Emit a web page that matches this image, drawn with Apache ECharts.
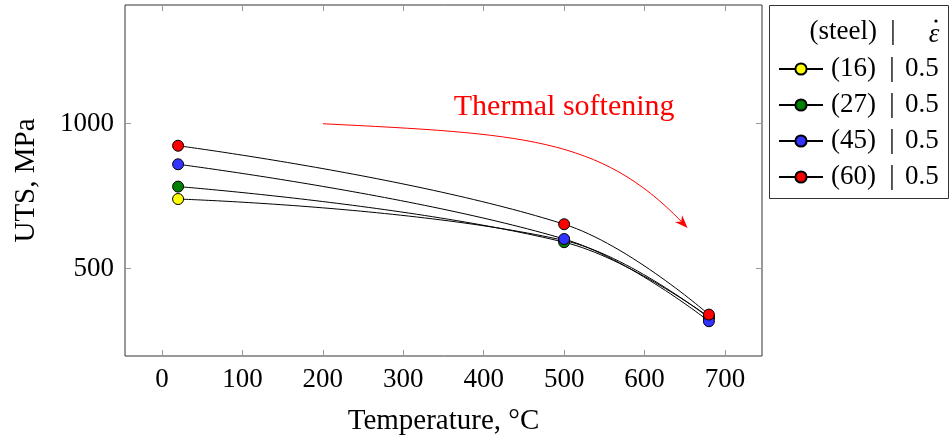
<!DOCTYPE html>
<html>
<head>
<meta charset="utf-8">
<script src="https://cdn.jsdelivr.net/npm/echarts@6/dist/echarts.min.js"></script>
<style>
html,body{margin:0;padding:0;background:#fff;}
#main{width:950px;height:441px;}
</style>
</head>
<body>
<div id="main"></div>
<script>
// ---- data ----
const temperatures = [20, 500, 680];
const steel16 = [740, 597, 330];
const steel27 = [783, 591, 333];
const steel45 = [860, 602, 318];
const steel60 = [924, 653, 341];
const steelNames = ['(16)', '(27)', '(45)', '(60)'];
const strainRates = ['0.5', '0.5', '0.5', '0.5'];
const seriesColors = ['#ffff00', '#008000', '#3333ff', '#ff0000'];
const xTicks = [0, 100, 200, 300, 400, 500, 600, 700];
const yTicks = [500, 1000];
const arrowStart = [200, 1000];
const arrowEnd = [650, 650];
const annotationPos = [500, 1056];
const annotationText = 'Thermal softening';

const FONT = 'Liberation Serif';
const allSeries = [steel16, steel27, steel45, steel60];

const chart = echarts.init(document.getElementById('main'), null, {renderer: 'canvas'});

function mkSeries(vals, i) {
  return {
    name: steelNames[i],
    type: 'line',
    smooth: 0.4,
    data: temperatures.map((t, k) => [t, vals[k]]),
    symbol: 'circle',
    symbolSize: 11,
    lineStyle: {color: '#000', width: 1},
    itemStyle: {color: seriesColors[i], borderColor: '#000', borderWidth: 1},
    emphasis: {disabled: true},
    z: 2 + i,
    animation: false
  };
}

const tickStyle = {show: true, inside: true, length: 6, lineStyle: {color: '#999', width: 1}};
const plainNum = v => String(v);

const option = {
  animation: false,
  grid: {left: 125, right: 188, top: 5, bottom: 79, show: true, borderColor: '#333', borderWidth: 1, backgroundColor: 'transparent'},
  xAxis: [{
    type: 'value', min: -46, max: 746,
    axisLine: {show: false, onZero: false},
    axisTick: Object.assign({customValues: xTicks}, tickStyle),
    axisLabel: {customValues: xTicks, formatter: plainNum, color: '#000', fontFamily: FONT, fontSize: 27, margin: 10},
    splitLine: {show: false},
    name: 'Temperature, °C', nameLocation: 'middle', nameGap: 51,
    nameTextStyle: {color: '#000', fontFamily: FONT, fontSize: 29}
  }, {
    type: 'value', min: -46, max: 746, position: 'top',
    axisLine: {show: false, onZero: false},
    axisTick: Object.assign({customValues: xTicks}, tickStyle),
    axisLabel: {show: false, customValues: xTicks},
    splitLine: {show: false}
  }],
  yAxis: [{
    type: 'value', min: 198, max: 1410,
    axisLine: {show: false, onZero: false},
    axisTick: Object.assign({customValues: yTicks}, tickStyle),
    axisLabel: {customValues: yTicks, formatter: plainNum, color: '#000', fontFamily: FONT, fontSize: 27, margin: 11},
    splitLine: {show: false},
    name: 'UTS, MPa', nameLocation: 'middle', nameGap: 84, nameRotate: 90,
    nameTextStyle: {color: '#000', fontFamily: FONT, fontSize: 29}
  }, {
    type: 'value', min: 198, max: 1410, position: 'right',
    axisLine: {show: false, onZero: false},
    axisTick: Object.assign({customValues: yTicks}, tickStyle),
    axisLabel: {show: false, customValues: yTicks},
    splitLine: {show: false}
  }],
  legend: {
    orient: 'vertical',
    left: 778, top: 51,
    padding: 0,
    itemWidth: 44, itemHeight: 14, itemGap: 0,
    selectedMode: false,
    data: steelNames,
    formatter: function (name) {
      const i = steelNames.indexOf(name);
      return '{n|' + name + '}{s||}{v|' + strainRates[i] + '}';
    },
    textStyle: {
      color: '#000', fontFamily: FONT, fontSize: 27, lineHeight: 36,
      rich: {
        n: {width: 54, align: 'left', padding: [0, 0, 0, 3], fontFamily: FONT, fontSize: 27, color: '#000', lineHeight: 36},
        s: {width: 14, align: 'center', fontFamily: FONT, fontSize: 27, color: '#000', lineHeight: 36},
        v: {align: 'left', padding: [0, 0, 0, 6], fontFamily: FONT, fontSize: 27, color: '#000', lineHeight: 36}
      }
    }
  },
  series: allSeries.map(mkSeries)
};

chart.setOption(option);

// annotation: positions via the chart's scales
const p0 = chart.convertToPixel({gridIndex: 0}, arrowStart);
const p3 = chart.convertToPixel({gridIndex: 0}, arrowEnd);
const dx = p3[0] - p0[0];
const p1 = [p0[0] + dx * 0.55, p0[1] + 10];
const p2 = [p3[0] - 85, p3[1] - 88];
const tx = p3[0] - p2[0], ty = p3[1] - p2[1];
const tl = Math.hypot(tx, ty);
const ux = tx / tl, uy = ty / tl;
const headLen = 13, headW = 5;
const tip = [p3[0] + ux * 4, p3[1] + uy * 4];
const base = [tip[0] - ux * headLen, tip[1] - uy * headLen];
const notch = [tip[0] - ux * headLen * 0.7, tip[1] - uy * headLen * 0.7];
const left = [base[0] - uy * headW, base[1] + ux * headW];
const right = [base[0] + uy * headW, base[1] - ux * headW];
const tp = chart.convertToPixel({gridIndex: 0}, annotationPos);

chart.setOption({
  graphic: [
    {type: 'bezierCurve', shape: {x1: p0[0], y1: p0[1], cpx1: p1[0], cpy1: p1[1], cpx2: p2[0], cpy2: p2[1], x2: notch[0], y2: notch[1]},
     style: {stroke: '#ff0000', lineWidth: 1, fill: null}, z: 10},
    {type: 'polygon', shape: {points: [tip, left, notch, right]}, style: {fill: '#ff0000'}, z: 10},
    {type: 'text', x: tp[0], y: tp[1], style: {text: annotationText, fill: '#ff0000', font: '30px "' + FONT + '"', textAlign: 'center', textVerticalAlign: 'middle'}, z: 10},
    // legend box + header
    {type: 'rect', shape: {x: 769.5, y: 5.5, width: 179, height: 193}, style: {fill: null, stroke: '#333', lineWidth: 1}, z: 1},
    {type: 'text', x: 877, y: 32, style: {text: '(steel)', fill: '#000', font: '27px "' + FONT + '"', textAlign: 'right', textVerticalAlign: 'middle'}},
    {type: 'text', x: 893, y: 32, style: {text: '|', fill: '#000', font: '27px "' + FONT + '"', textAlign: 'center', textVerticalAlign: 'middle'}},
    {type: 'text', x: 934, y: 35, style: {text: 'ε', fill: '#000', font: 'italic 27px "' + FONT + '"', textAlign: 'center', textVerticalAlign: 'middle'}},
    {type: 'circle', shape: {cx: 936, cy: 21, r: 1.6}, style: {fill: '#000'}}
  ]
});
</script>
</body>
</html>
